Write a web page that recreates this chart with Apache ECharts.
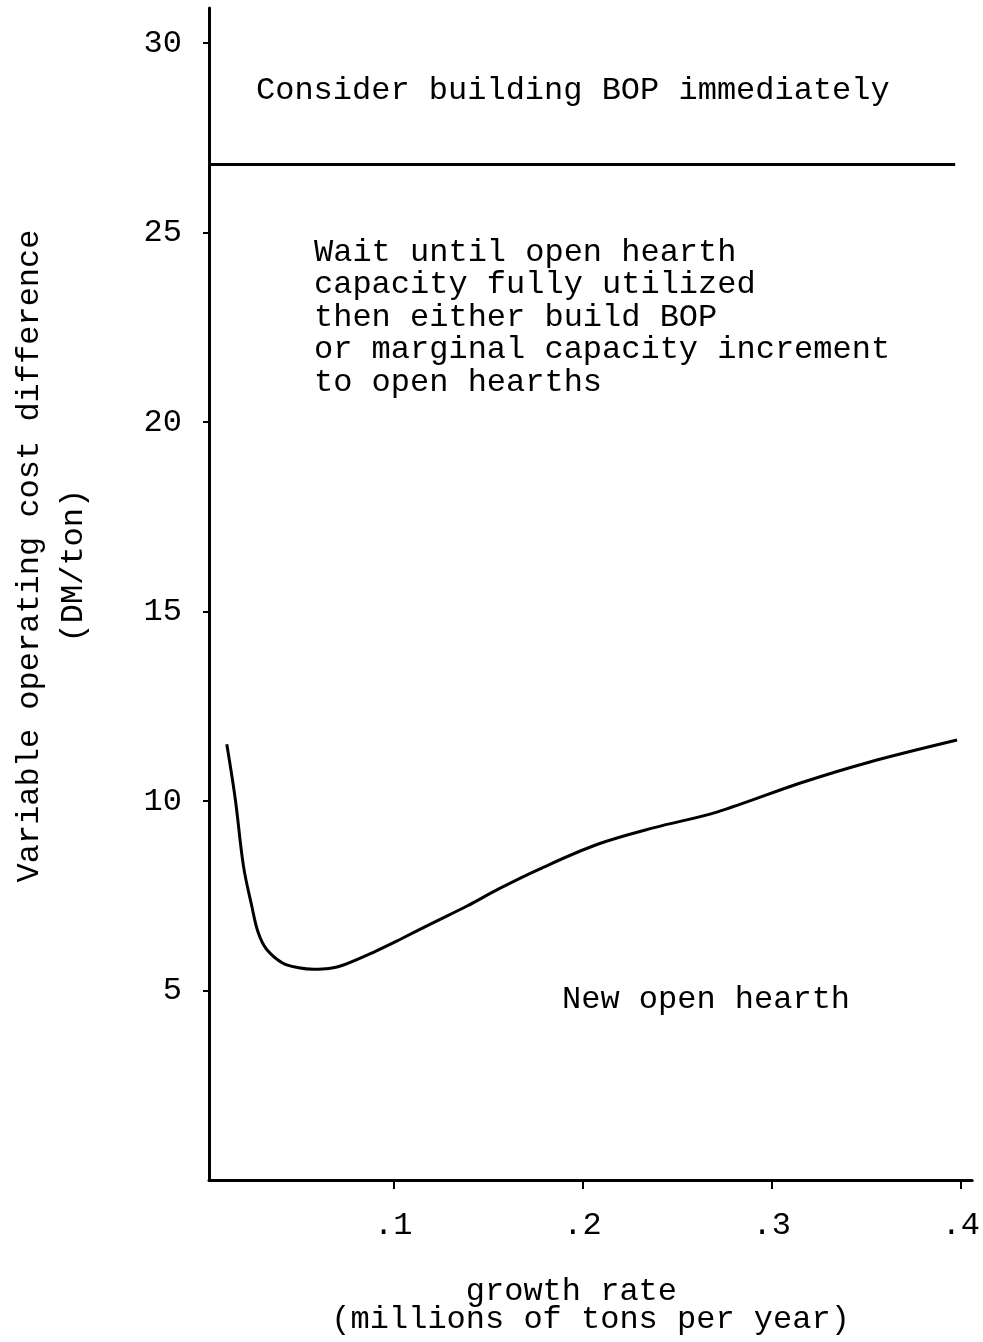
<!DOCTYPE html>
<html>
<head>
<meta charset="utf-8">
<script src="https://cdn.jsdelivr.net/npm/echarts@6/dist/echarts.min.js"></script>
<style>
html,body{margin:0;padding:0;background:#fff;}
#c{width:983px;height:1342px;}
</style>
</head>
<body>
<div id="c"></div>
<script>
// ---- data ----
const curveX = [0.012, 0.0165, 0.0208, 0.0252, 0.0286, 0.033, 0.0417, 0.050, 0.058, 0.066, 0.0729, 0.0903, 0.104, 0.1215, 0.139, 0.156, 0.177, 0.208, 0.238, 0.271, 0.316, 0.351, 0.398];
const curveY = [11.50, 10.05, 8.29, 7.23, 6.53, 6.09, 5.72, 5.60, 5.56, 5.58, 5.66, 6.03, 6.36, 6.80, 7.23, 7.69, 8.20, 8.86, 9.30, 9.71, 10.49, 11.02, 11.61];
const boundaryX = [0.0026, 0.397];
const boundaryY = [26.8, 26.8];
const yTicks = [5, 10, 15, 20, 25, 30];
const xTicks = [0.1, 0.2, 0.3, 0.4];
const xTitle = ['growth rate  ', '(millions of tons per year)'];
const yTitle = ['Variable operating cost difference', '(DM/ton) '];
const regionTop = 'Consider building BOP immediately';
const regionMid = ['Wait until open hearth', 'capacity fully utilized', 'then either build BOP', 'or marginal capacity increment', 'to open hearths'];
const regionLow = 'New open hearth';

const FONT = '"Liberation Mono", "DejaVu Sans Mono", monospace';

const chart = echarts.init(document.getElementById('c'));
const curve = curveX.map((x, i) => [x, curveY[i]]);
const boundary = boundaryX.map((x, i) => [x, boundaryY[i]]);

chart.setOption({
  backgroundColor: '#ffffff',
  animation: false,
  grid: { left: 205, right: 3, top: 8, bottom: 162, containLabel: false },
  xAxis: {
    type: 'value', min: 0.0026, max: 0.406,
    splitLine: { show: false },
    axisLine: { show: true, onZero: false, lineStyle: { color: '#000', width: 3 } },
    axisTick: { show: true, customValues: xTicks, length: 9, lineStyle: { color: '#000', width: 2 } },
    axisLabel: {
      customValues: xTicks, margin: 30, color: '#000', fontFamily: FONT, fontSize: 32,
      formatter: v => String(v).replace(/^0\./, '.')
    },
    name: xTitle.join('\n'), nameLocation: 'middle', nameGap: 98,
    nameTextStyle: { color: '#000', fontFamily: FONT, fontSize: 32, lineHeight: 28 }
  },
  yAxis: {
    type: 'value', min: 0, max: 30.93,
    splitLine: { show: false },
    axisLine: { show: true, onZero: false, lineStyle: { color: '#000', width: 3 } },
    axisTick: { show: true, customValues: yTicks, length: 6, lineStyle: { color: '#000', width: 2 } },
    axisLabel: { customValues: yTicks, margin: 27, color: '#000', fontFamily: FONT, fontSize: 32 },
    name: yTitle.join('\n'), nameLocation: 'middle', nameRotate: 90, nameGap: 113,
    nameTextStyle: { color: '#000', fontFamily: FONT, fontSize: 32, lineHeight: 44, padding: [0, 0, 0, 76] }
  },
  series: [
    {
      type: 'line', data: curve, smooth: 0.35, showSymbol: false,
      lineStyle: { color: '#000', width: 3 }
    },
    {
      type: 'line', data: boundary, showSymbol: false,
      lineStyle: { color: '#000', width: 3 }
    }
  ],
  graphic: [
    { type: 'text', left: 256, top: 75, style: { text: regionTop, fill: '#000', font: '32px ' + FONT } },
    { type: 'text', left: 314, top: 236, style: { text: regionMid.join('\n'), fill: '#000', font: '32px ' + FONT, lineHeight: 32.5 } },
    { type: 'text', left: 562, top: 984, style: { text: regionLow, fill: '#000', font: '32px ' + FONT } }
  ]
});
</script>
</body>
</html>
